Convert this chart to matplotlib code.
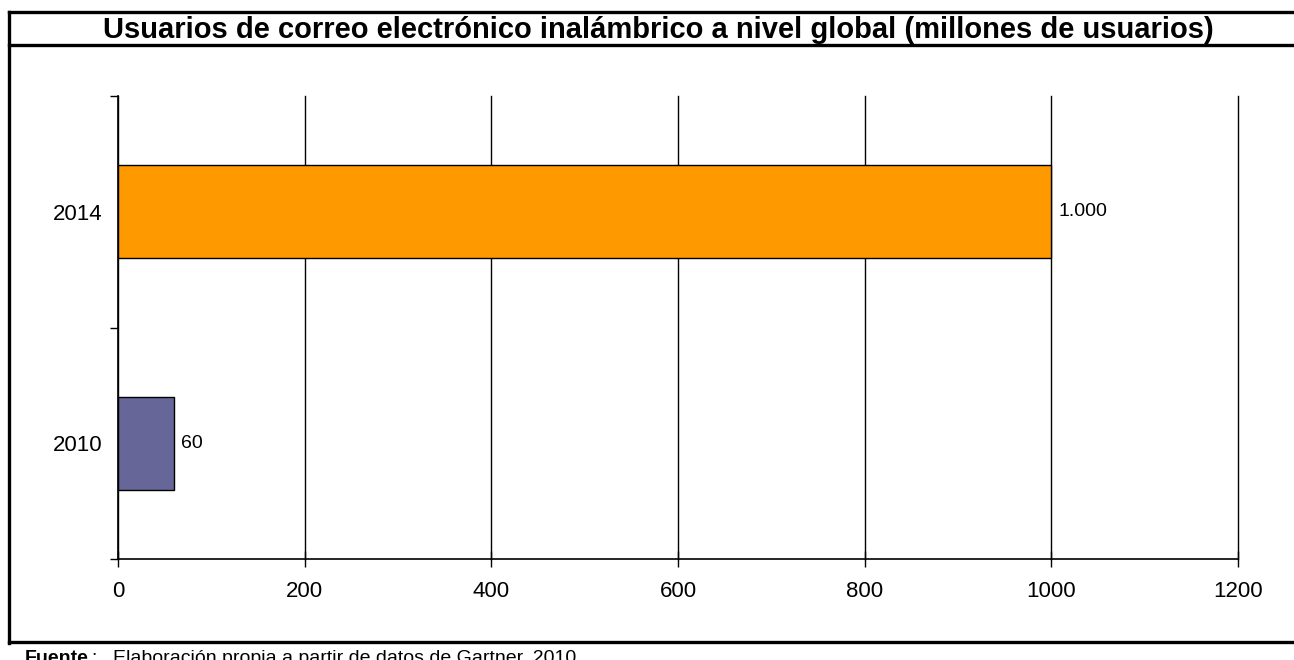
import matplotlib
matplotlib.use("Agg")
import matplotlib.pyplot as plt
from matplotlib.lines import Line2D
from matplotlib import font_manager as fm

reg = None
bold = None
for f in fm.findSystemFonts():
    n = f.split("/")[-1]
    if n == "LiberationSans-Regular.ttf":
        reg = f
    elif n == "LiberationSans-Bold.ttf":
        bold = f

categories = ["2010", "2014"]
values = [60, 1000]
value_labels = ["60", "1.000"]
colors = ["#666699", "#FF9900"]
xticks = [0, 200, 400, 600, 800, 1000, 1200]
title = "Usuarios de correo electrónico inalámbrico a nivel global (millones de usuarios)"

def fp(size, b=False):
    path = bold if b else reg
    if path:
        return fm.FontProperties(fname=path, size=size)
    return fm.FontProperties(family="DejaVu Sans", size=size, weight="bold" if b else "normal")

W, H = 1294, 660
fig = plt.figure(figsize=(W / 100, H / 100), dpi=100)
ax = fig.add_axes([118 / W, 1 - 559 / H, (1238 - 118) / W, (559 - 96) / H])

ypos = list(range(len(categories)))
ax.barh(ypos, values, height=0.4, color=colors, edgecolor="black", linewidth=1.0, zorder=3)
for y, v, lab in zip(ypos, values, value_labels):
    ax.annotate(lab, xy=(v, y), xytext=(5, 0), textcoords="offset points",
                va="center", ha="left", fontproperties=fp(14))

ax.set_xlim(0, 1200)
ax.set_ylim(-0.5, 1.5)
ax.set_xticks(xticks)
ax.set_xticklabels([str(t) for t in xticks], fontproperties=fp(16))
ax.tick_params(axis="x", direction="inout", length=12, width=1, pad=10)
ax.set_yticks(ypos)
ax.set_yticklabels(categories, fontproperties=fp(16))
ax.tick_params(axis="y", which="major", length=0, pad=11)
ax.set_yticks([-0.5, 0.5, 1.5], minor=True)
ax.tick_params(axis="y", which="minor", direction="out", length=6, width=1)
ax.xaxis.grid(True, color="black", linewidth=1, zorder=0)
for gl in ax.get_xgridlines():
    gl.set_clip_on(False)
ax.set_axisbelow(True)
for s in ["top", "right"]:
    ax.spines[s].set_visible(False)
for s in ["left", "bottom"]:
    ax.spines[s].set_linewidth(1.2)
    ax.spines[s].set_zorder(4)

# frame
lw = 2.4
def fl(xs, ys):
    fig.add_artist(Line2D([x / W for x in xs], [1 - y / H for y in ys], color="black", linewidth=lw))
fl([9, 9], [12, 643])
fl([9, W], [12, 12])
fl([9, W], [45, 45])
fl([9, W], [642, 642])

fig.text(658 / W, 1 - 30 / H, title, ha="center", va="center", fontproperties=fp(21, True))
fig.text(25 / W, 1 - 663 / H, "Fuente", ha="left", va="baseline", fontproperties=fp(14, True))
fig.text(91 / W, 1 - 663 / H, ":", ha="left", va="baseline", fontproperties=fp(14))
fig.text(113 / W, 1 - 663 / H, "Elaboración propia a partir de datos de Gartner, 2010", ha="left", va="baseline", fontproperties=fp(14))

fig.savefig("out.png", dpi=100)
